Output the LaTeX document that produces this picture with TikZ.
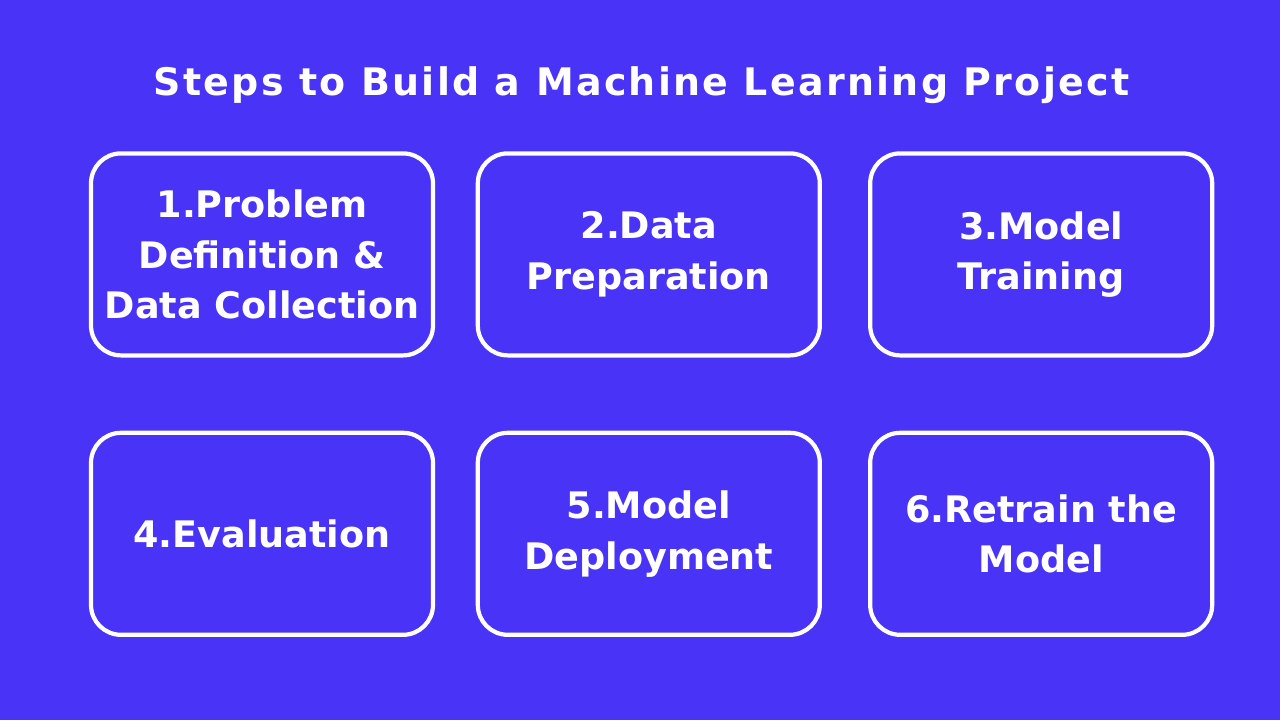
\documentclass[tikz,border=0pt]{standalone}
\usepackage{fontspec}
\setmainfont{DejaVu Sans}
\usepackage{xcolor}
\usepackage{tikz}
\usetikzlibrary{positioning}
\definecolor{mlbg}{RGB}{72,51,246}
\definecolor{mlwhite}{RGB}{255,255,255}

\begin{document}
\begin{tikzpicture}[
  every node/.style={font=\bfseries, text=mlwhite},
  heading/.style={font=\bfseries\fontsize{27}{32}\selectfont\addfontfeature{LetterSpace=6},
                  anchor=base},
  stepbox/.style={rectangle, rounded corners=0.75cm, draw=mlwhite,
                  line width=3pt, minimum width=8.55cm, minimum height=5.05cm,
                  inner sep=0pt, align=center,
                  font=\bfseries\fontsize{26}{36}\selectfont},
]

% ── Background ──
\fill[mlbg] (0,0) rectangle (32,18);
\useasboundingbox (0,0) rectangle (32,18);

% ── Title ──
\node[heading] (title) at (16.04,15.6) {Steps to Build a Machine Learning Project};

% ── Top row ──
\node[stepbox] (s1) at (6.55,11.64) {1.Problem\\Definition \&\\Data Collection};
\node[stepbox] (s2) at (16.22,11.64) {2.Data\\Preparation};
\node[stepbox] (s3) at (26.03,11.64) {3.Model\\Training};

% ── Bottom row ──
\node[stepbox, below=1.83cm of s1] (s4) {4.Evaluation};
\node[stepbox, below=1.83cm of s2] (s5) {5.Model\\Deployment};
\node[stepbox, below=1.83cm of s3] (s6) {6.Retrain the\\Model};

\end{tikzpicture}
\end{document}
